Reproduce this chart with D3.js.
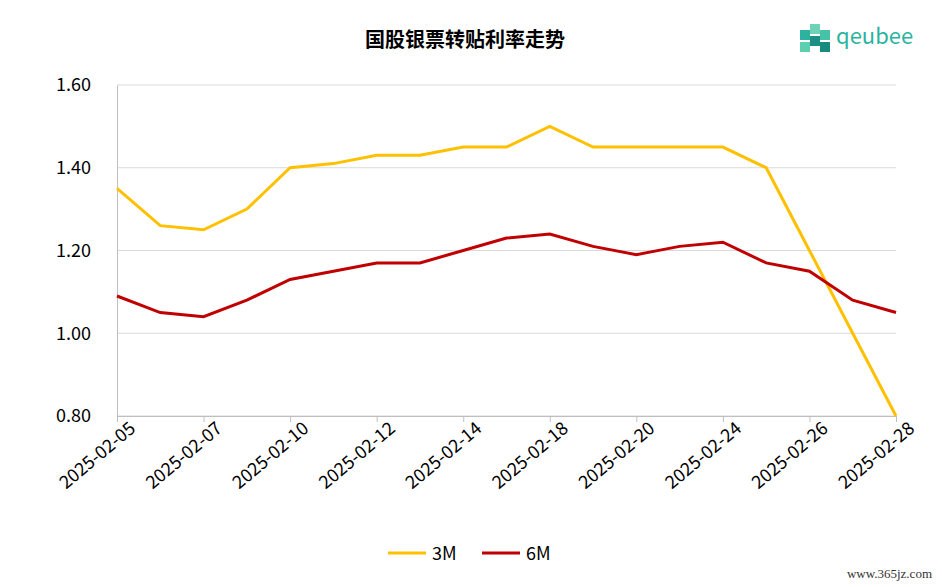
<!DOCTYPE html>
<html><head><meta charset="utf-8">
<script src="https://cdn.jsdelivr.net/npm/d3@7"></script>
<style>body{margin:0;background:#fff}text{font-family:"Microsoft YaHei","Noto Sans CJK SC","Noto Sans",sans-serif}</style>
</head><body><svg id="c" width="942" height="587"></svg>
<script>
var dates = ["2025-02-05","2025-02-06","2025-02-07","2025-02-08","2025-02-10","2025-02-11","2025-02-12","2025-02-13","2025-02-14","2025-02-17","2025-02-18","2025-02-19","2025-02-20","2025-02-21","2025-02-24","2025-02-25","2025-02-26","2025-02-27","2025-02-28"];
var rate3M = [1.35,1.26,1.25,1.30,1.40,1.41,1.43,1.43,1.45,1.45,1.50,1.45,1.45,1.45,1.45,1.40,1.20,1.00,0.80];
var rate6M = [1.09,1.05,1.04,1.08,1.13,1.15,1.17,1.17,1.20,1.23,1.24,1.21,1.19,1.21,1.22,1.17,1.15,1.08,1.05];
var yTicks = [0.80,1.00,1.20,1.40,1.60];

var svg = d3.select("#c");
var x = d3.scalePoint().domain(dates).range([117, 896]);
var y = d3.scaleLinear().domain([0.8, 1.6]).range([416, 85]);

svg.append("text").attr("x", 465).attr("y", 47).attr("text-anchor", "middle")
  .style("font-size", "20px").style("font-weight", "bold").text("国股银票转贴利率走势");

// grid
svg.selectAll("line.grid").data(yTicks).enter().append("line")
  .attr("x1", 117).attr("x2", 896).attr("y1", d => y(d)).attr("y2", d => y(d))
  .attr("stroke", "#d9d9d9");

var ya = svg.append("g").attr("transform", "translate(117,0)")
  .call(d3.axisLeft(y).tickValues(yTicks).tickFormat(d3.format(".2f")).tickSize(0).tickPadding(26));
ya.select(".domain").attr("stroke", "#bfbfbf");
ya.selectAll("text").style("font-size", "18px").attr("fill", "#000");

var xa = svg.append("g").attr("transform", "translate(0,416)")
  .call(d3.axisBottom(x).tickValues(dates.filter((d, i) => i % 2 == 0)).tickSize(6));
xa.select(".domain").attr("stroke", "#bfbfbf");
xa.selectAll("line").attr("stroke", "#bfbfbf");
xa.selectAll("text").style("font-size", "18px").attr("fill", "#000")
  .attr("text-anchor", "end").attr("dx", "0.3em").attr("dy", "0.8em")
  .attr("transform", "rotate(-40)");

var line = d3.line().x((d, i) => x(dates[i])).y(d => y(d));
svg.append("path").datum(rate3M).attr("d", line).attr("fill", "none").attr("stroke", "#ffc000").attr("stroke-width", 3);
svg.append("path").datum(rate6M).attr("d", line).attr("fill", "none").attr("stroke", "#c00000").attr("stroke-width", 3);

// legend
var leg = [["3M", "#ffc000", 388], ["6M", "#c00000", 482]];
leg.forEach(function (l) {
  svg.append("line").attr("x1", l[2]).attr("x2", l[2] + 38).attr("y1", 553).attr("y2", 553).attr("stroke", l[1]).attr("stroke-width", 3);
  svg.append("text").attr("x", l[2] + 44).attr("y", 560).style("font-size", "18px").text(l[0]);
});

// logo
var lg = svg.append("g").attr("transform", "translate(800,22)");
[[0,8,"#2bb3a0"],[10,2,"#6fd1b5"],[10,14,"#1d8f86"],[20,8,"#45c2a8"],[0,20,"#5ccfae"],[20,20,"#178b80"]].forEach(function (p) {
  lg.append("rect").attr("x", p[0]).attr("y", p[1]).attr("width", 10).attr("height", 10).attr("fill", p[2]);
});
svg.append("text").attr("x", 836).attr("y", 44).style("font-size", "22px").attr("fill", "#2bb3a0").text("qeubee");

svg.append("text").attr("x", 932).attr("y", 578).attr("text-anchor", "end").style("font-size", "13px")
  .style("font-family", "Liberation Serif, serif").attr("fill", "#333").text("www.365jz.com");
</script></body></html>
